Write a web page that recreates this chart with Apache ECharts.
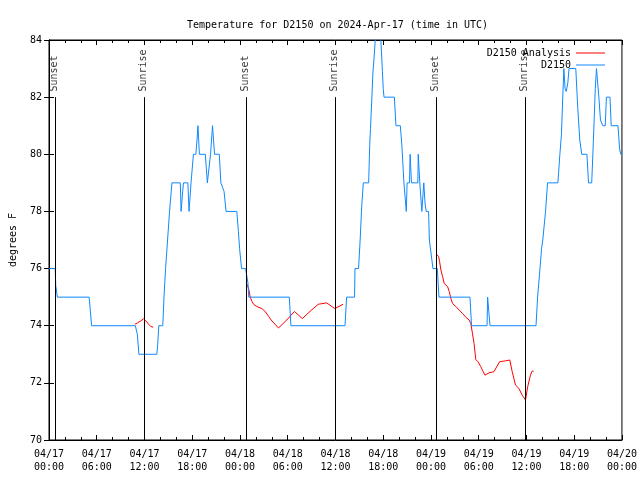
<!DOCTYPE html>
<html><head><meta charset="utf-8">
<script src="https://cdn.jsdelivr.net/npm/echarts@6/dist/echarts.min.js"></script>
<style>html,body{margin:0;padding:0;background:#fff}#c{width:640px;height:480px}</style>
</head><body><div id="c"></div>
<script>
// hours since 2024-04-17 00:00 UTC
const xTickLabels = ["04/17\n00:00","04/17\n06:00","04/17\n12:00","04/17\n18:00",
  "04/18\n00:00","04/18\n06:00","04/18\n12:00","04/18\n18:00",
  "04/19\n00:00","04/19\n06:00","04/19\n12:00","04/19\n18:00","04/20\n00:00"];

const observed = [
[0,76],[0.78,76],[0.85,75.4],[1.05,75],[5.05,75],[5.35,74],[10.85,74],[11.1,73.7],[11.3,73],
[13.55,73],[13.65,73.3],[13.8,74],[14.3,74],[14.45,75],[14.65,76],[14.9,77],[15.15,78],[15.45,79],
[16.5,79],[16.6,78],[16.7,78],[16.8,78.7],[16.9,79],[17.45,79],[17.6,78],[17.7,78],[17.85,79],
[18.15,80],[18.45,80],[18.6,80.5],[18.72,81],[18.8,81],[18.9,80],[19.65,80],[19.9,79],[20.15,79],
[20.3,80],[20.45,80],[20.55,81],[20.65,81],[20.8,80],[21.4,80],[21.6,79],[21.85,79],[22.0,78.7],
[22.25,78],[23.6,78],[23.8,77.3],[23.95,76.7],[24.2,76],[24.7,76],[25.0,75.5],[25.1,75],[30.2,75],
[30.4,74],[37.2,74],[37.4,75],[38.4,75],[38.45,76],[38.9,76],[39.1,77],[39.3,78.2],[39.5,79],
[40.17,79],[40.3,80.3],[40.4,80.9],[40.58,82],[40.7,82.85],[40.83,83.3],[41.0,84],[41.15,85],
[41.5,85],[41.7,84],[41.9,82.9],[42.0,82.3],[42.1,82],[43.4,82],[43.6,81],[44.15,81],[44.35,80.3],
[44.6,79],[44.75,78.5],[44.9,78],[45.0,79],[45.3,79],[45.38,80],[45.48,80],[45.55,79],[46.35,79],
[46.4,80],[46.5,80],[46.6,79],[46.85,78],[47.0,78],[47.1,79],[47.25,78.3],[47.4,78],[47.7,78],
[47.8,77],[48.05,77],[48.25,76],[48.8,76],[49.0,75],[52.9,75],[53.1,74],[55.05,74],[55.12,75],
[55.35,75],[55.42,74],[61.2,74],[61.4,75],[61.6,75],[61.7,76],[61.9,76.7],[62.05,77],[62.25,77],
[62.4,78],[62.65,79],[63.95,79],[64.2,80],[64.4,80.7],[64.55,81.9],[64.7,83],[64.85,82.3],
[65.0,82.2],[65.2,82.5],[65.35,83],[66.2,83],[66.45,81.6],[66.7,80.5],[66.95,80],[67.6,80],
[67.8,79],[68.2,79],[68.4,80.4],[68.65,82.3],[68.8,83],[68.95,83],[69.1,82],[69.3,81.2],[69.6,81],
[69.9,81],[70.05,82],[70.5,82],[70.65,81],[71.5,81],[71.7,80.2],[71.85,80],[72,80]
];

const analysis1 = [[10.79,74.05],[11.13,74.1],[11.54,74.17],[11.88,74.24],[12.17,74.17],[12.5,74.06],[12.8,73.97],[13.1,73.95]];
const analysis2 = [[24.79,75.5],[25.09,75.3],[25.29,75.0],[25.5,74.85],[25.71,74.75],[26.13,74.67],[26.75,74.6],
  [27.16,74.5],[27.59,74.33],[27.91,74.2],[28.84,73.92],[29.88,74.2],[30.84,74.5],[31.84,74.25],
  [32.79,74.5],[33.84,74.75],[34.88,74.8],[35.91,74.6],[36.96,74.75]];
const analysis3 = [[48.71,76.5],[48.96,76.42],[49.09,76.24],[49.25,75.95],[49.46,75.72],[49.66,75.48],
  [49.88,75.48],[50.09,75.37],[50.29,75.2],[50.5,74.96],[50.71,74.78],[51.13,74.67],[51.54,74.55],
  [51.96,74.43],[52.38,74.3],[52.79,74.2],[53.0,74.08],[53.21,73.74],[53.41,73.38],[53.63,72.82],
  [53.91,72.74],[54.25,72.57],[54.79,72.27],[55.29,72.35],[55.91,72.39],[56.63,72.74],[57.38,72.77],
  [57.91,72.8],[58.21,72.39],[58.63,71.92],[59.04,71.81],[59.46,71.57],[59.88,71.4],[60.16,71.87],
  [60.5,72.27],[60.71,72.41],[60.91,72.41]];

const sunTimes = [0.78, 11.92, 24.78, 35.92, 48.66, 59.8];
const sunNames = ["Sunset","Sunrise","Sunset","Sunrise","Sunset","Sunrise"];

const FONT = "DejaVu Sans Mono";
const BLUE = "#1088ff", RED = "#ff0000";

const chart = echarts.init(document.getElementById('c'), null, {renderer:'canvas'});
const lineBase = (name, data, color) => ({
  name, type:'line', data, symbol:'none', showSymbol:false, clip:true,
  lineStyle:{color, width:1}, itemStyle:{color}, animation:false, silent:true
});
const legendCommon = {right:30, align:'right', icon:'rect', itemWidth:29, itemHeight:1,
  textStyle:{fontFamily:FONT,fontSize:10,color:'#000'}, selectedMode:false};
chart.setOption({
  animation:false,
  backgroundColor:'#fff',
  title:{text:'Temperature for D2150 on 2024-Apr-17 (time in UTC)', left:182, top:15,
    textStyle:{fontFamily:FONT, fontSize:10, fontWeight:'normal', color:'#000'}},
  legend:[
    Object.assign({data:['D2150 Analysis'], top:43}, legendCommon),
    Object.assign({data:['D2150'], top:55}, legendCommon)
  ],
  grid:{left:46, right:18, top:40, bottom:40, show:true, borderColor:'#000', borderWidth:1, backgroundColor:'transparent'},
  xAxis:[
    {type:'value', min:0, max:72, interval:6, position:'bottom',
     axisLine:{show:true, lineStyle:{color:'#000'}},
     axisTick:{show:true, inside:true, length:5, lineStyle:{color:'#000'}},
     minorTick:{show:true, splitNumber:3, length:3, lineStyle:{color:'#000'}},
     splitLine:{show:false},
     axisLabel:{margin:8, color:'#000', fontFamily:FONT, fontSize:10, lineHeight:13,
       formatter:v=>xTickLabels[Math.round(v/6)]}},
    {type:'value', min:0, max:72, interval:6, position:'top',
     axisLine:{show:true, lineStyle:{color:'#000'}},
     axisTick:{show:true, inside:true, length:5, lineStyle:{color:'#000'}},
     minorTick:{show:true, splitNumber:3, length:3, lineStyle:{color:'#000'}},
     splitLine:{show:false}, axisLabel:{show:false}}
  ],
  yAxis:[
    {type:'value', min:70, max:84, interval:2, position:'left',
     name:'degrees F', nameLocation:'middle', nameGap:31,
     nameTextStyle:{fontFamily:FONT, fontSize:10, color:'#000'},
     axisLine:{show:true, lineStyle:{color:'#000'}},
     axisTick:{show:true, inside:true, length:5, lineStyle:{color:'#000'}},
     splitLine:{show:false},
     axisLabel:{margin:7, color:'#000', fontFamily:FONT, fontSize:10}},
    {type:'value', min:70, max:84, interval:2, position:'right',
     axisLine:{show:true, lineStyle:{color:'#000'}},
     axisTick:{show:true, inside:true, length:5, lineStyle:{color:'#000'}},
     splitLine:{show:false}, axisLabel:{show:false}}
  ],
  series:[
    lineBase('D2150 Analysis', analysis1, RED),
    lineBase('D2150 Analysis', analysis2, RED),
    lineBase('D2150 Analysis', analysis3, RED),
    lineBase('D2150', observed, BLUE),
    {type:'scatter', name:'sun', silent:true, animation:false, clip:false,
     data: sunTimes.map(t=>[t, 82.18]),
     symbol:'rect', symbolSize:1, itemStyle:{color:'rgba(0,0,0,0)'},
     label:{show:true, position:[0,0], formatter:p=>sunNames[p.dataIndex], rotate:90,
       align:'left', verticalAlign:'middle', fontFamily:FONT, fontSize:10, color:'#000'},
     markLine:{silent:true, symbol:['none','none'], animation:false,
       lineStyle:{color:'#000', width:1, type:'solid'}, label:{show:false},
       data: sunTimes.map(t=>[{coord:[t,70]},{coord:[t,82]}])}
    }
  ]
});
</script></body></html>
